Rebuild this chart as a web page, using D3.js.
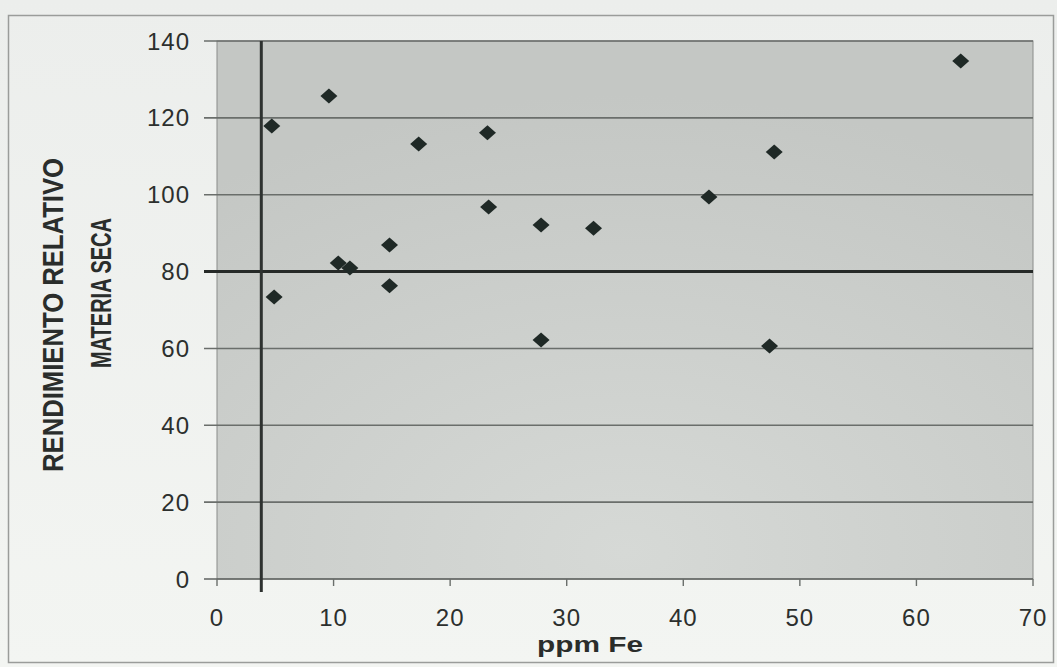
<!DOCTYPE html>
<html><head><meta charset="utf-8">
<script src="https://cdn.jsdelivr.net/npm/d3@7"></script>
<style>html,body{margin:0;padding:0;background:#eef0ee;}svg{display:block;}</style>
</head><body>
<svg id="chart" width="1057" height="667"></svg>
<script>
// Data
const ppmFe = [4.7, 4.9, 9.6, 10.4, 11.4, 14.8, 14.8, 17.3, 23.2, 23.3, 27.8, 27.8, 32.3, 42.2, 47.8, 47.4, 63.8];
const rendimiento = [117.9, 73.4, 125.7, 82.2, 80.9, 86.9, 76.3, 113.2, 116.1, 96.8, 92.1, 62.2, 91.3, 99.4, 111.1, 60.6, 134.8];
const xTicks = [0, 10, 20, 30, 40, 50, 60, 70];
const yTicks = [0, 20, 40, 60, 80, 100, 120, 140];
const criticalX = 3.8;
const criticalY = 80;
const xTitle = "ppm Fe";
const yTitle = ["RENDIMIENTO RELATIVO", "MATERIA SECA"];

(function () {
const svg = d3.select("#chart");
const W = 1057, H = 667;
const pL = 217, pR = 1033, pT = 41, pB = 579;

const x = d3.scaleLinear().domain([0, 70]).range([pL, pR]);
const y = d3.scaleLinear().domain([0, 140]).range([pB, pT]);

const defs = svg.append("defs");
const bgG = defs.append("linearGradient").attr("id", "outer").attr("x1", 0).attr("y1", 0).attr("x2", 0).attr("y2", 1);
bgG.append("stop").attr("offset", "0%").attr("stop-color", "#eceeec");
bgG.append("stop").attr("offset", "100%").attr("stop-color", "#f3f5f2");
const pg = defs.append("radialGradient").attr("id", "plotbg").attr("cx", "50%").attr("cy", "95%").attr("r", "85%");
pg.append("stop").attr("offset", "0%").attr("stop-color", "#d6d9d6");
pg.append("stop").attr("offset", "100%").attr("stop-color", "#c4c7c4");

svg.append("rect").attr("x", 0).attr("y", 0).attr("width", W).attr("height", H).attr("fill", "url(#outer)");
svg.append("rect").attr("x", 8.5).attr("y", 15.5).attr("width", 1045).attr("height", 647)
  .attr("fill", "none").attr("stroke", "#9a9c9a").attr("stroke-width", 1.5);

// plot area
svg.append("rect").attr("x", pL).attr("y", pT).attr("width", pR - pL).attr("height", pB - pT)
  .attr("fill", "url(#plotbg)").attr("stroke", "#8a8c8a").attr("stroke-width", 1);

// gridlines (extend left as tick marks)
svg.append("g").selectAll("line").data(yTicks).join("line")
  .attr("x1", pL - 13).attr("x2", pR)
  .attr("y1", d => y(d)).attr("y2", d => y(d))
  .attr("stroke", d => d === 0 ? "#5e625f" : "#6a6e6b").attr("stroke-width", 1.6);

// x axis ticks
svg.append("g").selectAll("line").data(xTicks).join("line")
  .attr("x1", d => x(d)).attr("x2", d => x(d))
  .attr("y1", pB).attr("y2", pB + 7)
  .attr("stroke", "#6a6e6b").attr("stroke-width", 1.4);

// critical lines
svg.append("line").attr("x1", pL - 13).attr("x2", pR)
  .attr("y1", y(criticalY)).attr("y2", y(criticalY))
  .attr("stroke", "#262a28").attr("stroke-width", 3);
svg.append("line").attr("x1", x(criticalX)).attr("x2", x(criticalX))
  .attr("y1", pT).attr("y2", pB + 13)
  .attr("stroke", "#2e3230").attr("stroke-width", 3);

// tick labels
svg.append("g").selectAll("text").data(yTicks).join("text")
  .attr("x", 190).attr("y", d => y(d)).attr("dy", "0.36em")
  .attr("text-anchor", "end").attr("letter-spacing", 1)
  .attr("font-family", "Liberation Sans, Arial, sans-serif").attr("font-size", 24)
  .attr("fill", "#2c2f2d").text(d => d);
svg.append("g").selectAll("text").data(xTicks).join("text")
  .attr("x", d => x(d)).attr("y", 626)
  .attr("text-anchor", "middle").attr("letter-spacing", 1)
  .attr("font-family", "Liberation Sans, Arial, sans-serif").attr("font-size", 24)
  .attr("fill", "#2c2f2d").text(d => d);

// axis titles
svg.append("text").attr("x", 537).attr("y", 652)
  .attr("textLength", 106).attr("lengthAdjust", "spacingAndGlyphs")
  .attr("font-family", "Liberation Sans, Arial, sans-serif").attr("font-size", 22).attr("font-weight", "bold")
  .attr("fill", "#2a2d2b").text(xTitle);

const yT = [{t: yTitle[0], bx: 63, cy: 315, len: 314}, {t: yTitle[1], bx: 111, cy: 293, len: 150}];
svg.append("g").selectAll("text").data(yT).join("text")
  .attr("transform", d => `translate(${d.bx},${d.cy + d.len / 2}) rotate(-90)`)
  .attr("x", 0).attr("y", 0)
  .attr("textLength", d => d.len).attr("lengthAdjust", "spacingAndGlyphs")
  .attr("font-family", "Liberation Sans, Arial, sans-serif").attr("font-size", 29).attr("font-weight", "bold")
  .attr("fill", "#2a2d2b").text(d => d.t);

// diamond markers
const pts = ppmFe.map((v, i) => [v, rendimiento[i]]);
const hw = 8.5, hh = 7.5;
svg.append("g").selectAll("path").data(pts).join("path")
  .attr("d", d => {
    const cx = x(d[0]), cy = y(d[1]);
    return `M${cx},${cy - hh}L${cx + hw},${cy}L${cx},${cy + hh}L${cx - hw},${cy}Z`;
  })
  .attr("fill", "#1f2926");
})();
</script>
</body></html>
